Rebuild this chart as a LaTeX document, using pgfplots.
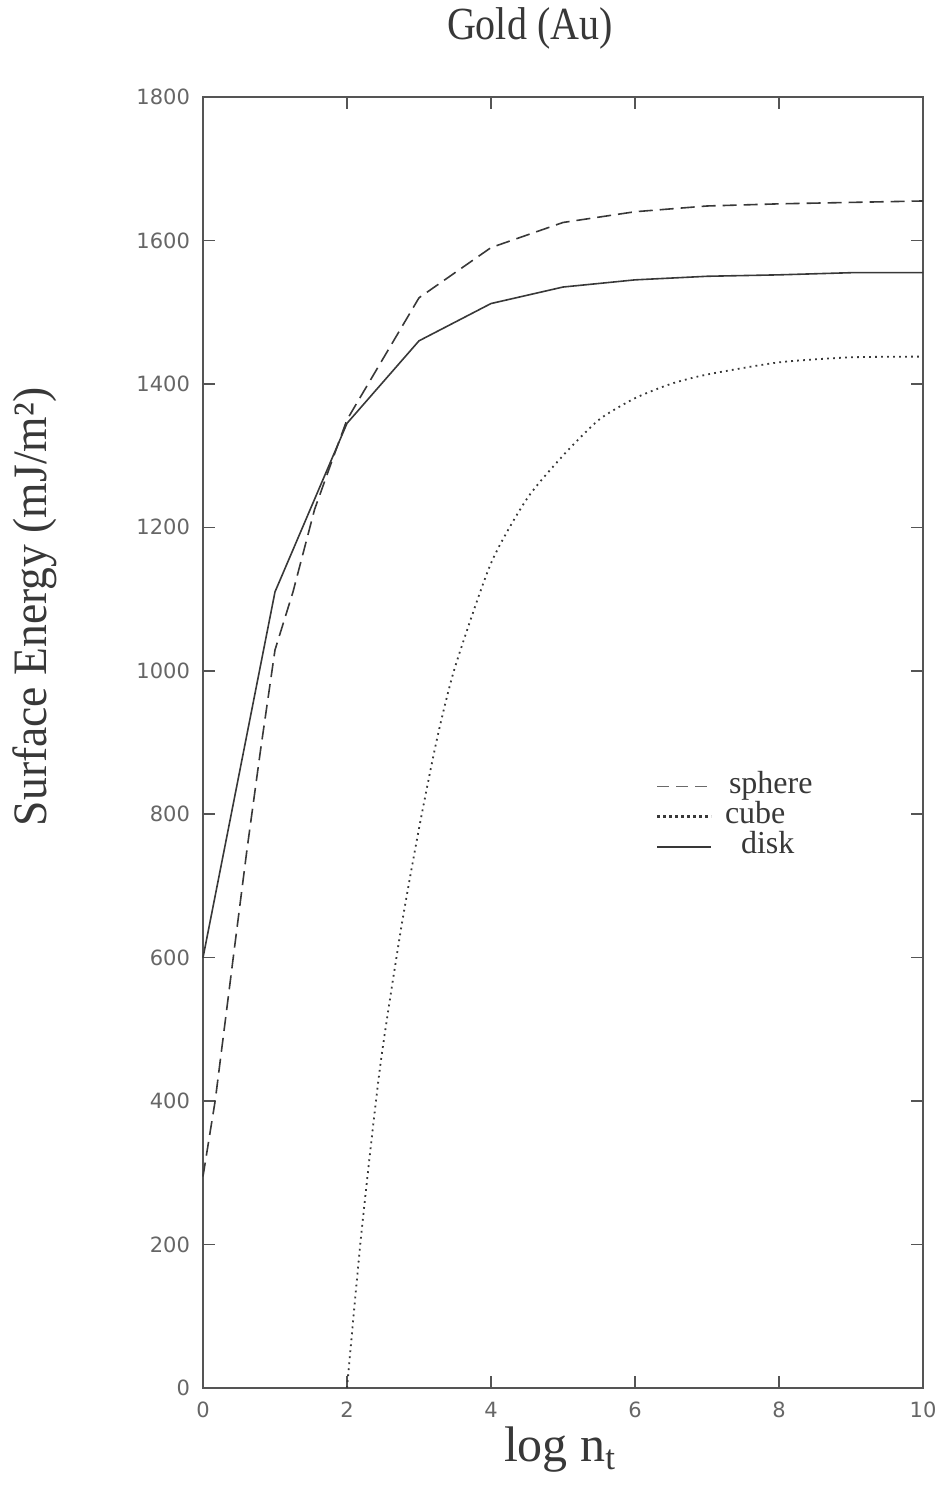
\documentclass[border=0pt]{standalone}
\usepackage{graphicx}
\usepackage{pgfplots}
\pgfplotsset{compat=1.18}
\usepackage{fontspec}
\setmainfont{Liberation Serif}
\newfontfamily\tickfont{DejaVu Sans}
\definecolor{axgray}{HTML}{555555}
\definecolor{linegray}{HTML}{383838}
\begin{document}
\begin{tikzpicture}
\begin{axis}[
  name=ax,
  scale only axis,
  width=360pt, height=645.5pt,
  xmin=0, xmax=10, ymin=0, ymax=1800,
  xtick={0,2,...,10}, ytick={0,200,...,1800},
  axis line style={axgray, line width=1pt},
  major tick style={axgray, line width=0.8pt},
  major tick length=6pt,
  tick align=inside,
  /pgf/number format/assume math mode=true,
  /pgf/number format/1000 sep={},
  tick label style={font=\tickfont\fontsize{10.5}{12}\selectfont, text=axgray!90},
  yticklabel style={xshift=-3pt},
  xticklabel style={yshift=-3.5pt},
  clip=false,
  legend cell align=left,
  legend style={draw=none, fill=none, at={(axis cs:6.2,859)}, anchor=north west,
    font=\fontsize{16}{15}\selectfont, text=linegray,
    nodes={inner sep=0pt, text height=8.5pt, text depth=2pt}, row sep=4.5pt},
  legend image code/.code={\draw[#1] (0pt,0pt) -- (27pt,0pt);},
]
\addplot[linegray, line width=0.8pt, dash pattern=on 7pt off 3.5pt, forget plot] coordinates {
(0,295) (0.17,401) (0.42,600) (0.61,750) (0.8,890) (1,1029) (1.25,1110) (1.55,1225) (1.8,1295) (2,1350)
(3,1520) (4,1590) (5,1625) (6,1640) (7,1648) (8,1651) (9,1653) (10,1655)};
\addlegendimage{linegray!75, line width=0.7pt, dash pattern=on 6pt off 3.5pt}
\addlegendentry{\hspace{8pt}sphere}
\addplot[linegray, line width=0.9pt, dash pattern=on 0.9pt off 2.1pt, smooth, tension=0.4, forget plot] coordinates {
(2,0) (2.2,216) (2.46,448) (2.75,640) (3,780) (3.25,905) (3.5,1005) (4,1150) (4.5,1240) (5,1300)
(5.5,1350) (6,1380) (6.5,1400) (7,1413) (8,1430) (9,1437) (10,1438)};
\addlegendimage{linegray, line width=1.6pt, dash pattern=on 1.4pt off 1.6pt}
\addlegendentry{\hspace{6pt}cube}
\addplot[linegray, line width=0.8pt] coordinates {
(0,600) (1,1110) (2,1345) (3,1460) (4,1512) (5,1535) (6,1545) (7,1550) (8,1552) (9,1555) (10,1555)};
\addlegendentry{\hspace{14pt}disk}
\node[font=\fontsize{23}{23}\selectfont, text=linegray] at (rel axis cs:0.454,1.053) {\scalebox{0.87}[1]{Gold (Au)}};
\node[font=\fontsize{24}{24}\selectfont, text=linegray, rotate=90] at (rel axis cs:-0.233,0.605) {\scalebox{0.95}[1]{Surface Energy (mJ/m²)}};
\node[font=\fontsize{25}{25}\selectfont, text=linegray] at (rel axis cs:0.496,-0.048) {log n\textsubscript{t}};
\end{axis}
\pgfresetboundingbox
\path (ax.south west) ++(-101.5pt,-48.5pt) coordinate (bbsw);
\path (ax.north east) ++(9pt,48.5pt) coordinate (bbne);
\useasboundingbox (bbsw) rectangle (bbne);
\end{tikzpicture}
\end{document}
